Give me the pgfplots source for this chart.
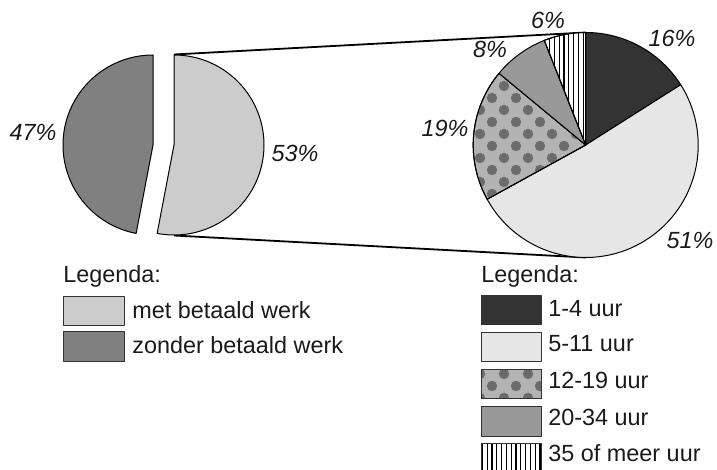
\documentclass[border=0pt]{standalone}
\usepackage{pgfplots}
\pgfplotsset{compat=1.18}
\usetikzlibrary{patterns}
\usepackage{fontspec}
\setmainfont{Liberation Sans}
\definecolor{zonder}{HTML}{808080}
\definecolor{met}{HTML}{CCCCCC}
\definecolor{uA}{HTML}{333333}
\definecolor{uB}{HTML}{E6E6E6}
\definecolor{uCbg}{HTML}{B3B3B3}
\definecolor{uCdot}{HTML}{6B6B6B}
\definecolor{uD}{HTML}{999999}
\definecolor{txt}{HTML}{1A1A1A}
\pgfdeclarepatternformonly{bigdots}{\pgfqpoint{-3pt}{-3pt}}{\pgfqpoint{15pt}{15pt}}{\pgfqpoint{12pt}{12pt}}{%
  \pgfpathcircle{\pgfqpoint{0pt}{0pt}}{2.6pt}%
  \pgfpathcircle{\pgfqpoint{6pt}{6pt}}{2.6pt}%
  \pgfusepath{fill}}
\pgfdeclarepatternformonly{vstripes}{\pgfqpoint{0pt}{-0.5pt}}{\pgfqpoint{2.4pt}{0.5pt}}{\pgfqpoint{2.4pt}{1pt}}{%
  \pgfsetlinewidth{0.55pt}%
  \pgfpathmoveto{\pgfqpoint{1.2pt}{-0.5pt}}%
  \pgfpathlineto{\pgfqpoint{1.2pt}{0.5pt}}%
  \pgfusepath{stroke}}
\newcommand{\lbl}{\fontsize{11.7}{14}\selectfont\itshape}
\newcommand{\leg}{\fontsize{11.7}{14}\selectfont}
\begin{document}
\begin{tikzpicture}
\useasboundingbox (0,0) rectangle (358.5pt,235pt);
\begin{axis}[at={(0,0)}, anchor=south west, scale only axis,
  width=358.5pt, height=235pt,
  xmin=0, xmax=717, ymin=0, ymax=470, y dir=reverse,
  hide axis, clip=true,
  every axis plot/.append style={line join=round, line width=0.5pt},
  samples=90]
% connector lines
\addplot[black, line width=0.9pt] coordinates {(174,54.5) (585.7,32.5)};
\addplot[black, line width=0.9pt] coordinates {(174,235.5) (585.7,257.5)};
% left pie: 53% met betaald werk, 47% zonder betaald werk (exploded)
\addplot[fill=zonder, draw=black, domain=90:259.2] ({153+90*cos(x)},{145-90*sin(x)}) -- (153,145) -- cycle;
\addplot[fill=met, draw=black, domain=-100.8:90] ({174+90*cos(x)},{145-90*sin(x)}) -- (174,145) -- cycle;
% right pie: 16, 51, 19, 8, 6 (%), clockwise from 12 o'clock
\addplot[fill=uA, draw=black, domain=32.4:90] ({585.7+112.5*cos(x)},{145-112.5*sin(x)}) -- (585.7,145) -- cycle;
\addplot[fill=uB, draw=black, domain=-151.2:32.4] ({585.7+112.5*cos(x)},{145-112.5*sin(x)}) -- (585.7,145) -- cycle;
\addplot[preaction={fill=uCbg}, pattern=bigdots, pattern color=uCdot, draw=black, domain=140.4:208.8] ({585.7+112.5*cos(x)},{145-112.5*sin(x)}) -- (585.7,145) -- cycle;
\addplot[fill=uD, draw=black, domain=111.6:140.4] ({585.7+112.5*cos(x)},{145-112.5*sin(x)}) -- (585.7,145) -- cycle;
\addplot[preaction={fill=white}, pattern=vstripes, pattern color=black, draw=black, domain=90:111.6] ({585.7+112.5*cos(x)},{145-112.5*sin(x)}) -- (585.7,145) -- cycle;
% percentage labels
\node[font=\lbl, text=txt, inner sep=0pt] at (33,132) {47\%};
\node[font=\lbl, text=txt, inner sep=0pt] at (295,153) {53\%};
\node[font=\lbl, text=txt, inner sep=0pt] at (672,38) {16\%};
\node[font=\lbl, text=txt, inner sep=0pt] at (690,240) {51\%};
\node[font=\lbl, text=txt, inner sep=0pt] at (445,128) {19\%};
\node[font=\lbl, text=txt, inner sep=0pt] at (490,49) {8\%};
\node[font=\lbl, text=txt, inner sep=0pt] at (548,20) {6\%};
% left legend
\node[font=\leg, text=txt, inner sep=0pt, anchor=base west] at (63,283) {Legenda:};
\addplot[fill=met, draw=black!80] coordinates {(63,296) (124,296) (124,325.5) (63,325.5)} -- cycle;
\addplot[fill=zonder, draw=black!80] coordinates {(63,331.5) (124,331.5) (124,361) (63,361)} -- cycle;
\node[font=\leg, text=txt, inner sep=0pt, anchor=base west] at (132,318) {met betaald werk};
\node[font=\leg, text=txt, inner sep=0pt, anchor=base west] at (132,353) {zonder betaald werk};
% right legend
\node[font=\leg, text=txt, inner sep=0pt, anchor=base west] at (481,283) {Legenda:};
\addplot[fill=uA, draw=black!80] coordinates {(481,295) (541,295) (541,324.5) (481,324.5)} -- cycle;
\addplot[fill=uB, draw=black!80] coordinates {(481,332) (541,332) (541,361.5) (481,361.5)} -- cycle;
\addplot[preaction={fill=uCbg}, pattern=bigdots, pattern color=uCdot, draw=black!80] coordinates {(481,369) (541,369) (541,398.5) (481,398.5)} -- cycle;
\addplot[fill=uD, draw=black!80] coordinates {(481,406.5) (541,406.5) (541,436) (481,436)} -- cycle;
\addplot[preaction={fill=white}, pattern=vstripes, pattern color=black, draw=black!80] coordinates {(481,443) (541,443) (541,474) (481,474)} -- cycle;
\node[font=\leg, text=txt, inner sep=0pt, anchor=base west] at (548,316.7) {1-4 uur};
\node[font=\leg, text=txt, inner sep=0pt, anchor=base west] at (548,351.7) {5-11 uur};
\node[font=\leg, text=txt, inner sep=0pt, anchor=base west] at (548,388.3) {12-19 uur};
\node[font=\leg, text=txt, inner sep=0pt, anchor=base west] at (548,425) {20-34 uur};
\node[font=\leg, text=txt, inner sep=0pt, anchor=base west] at (548,461.7) {35 of meer uur};
\end{axis}
\end{tikzpicture}
\end{document}
